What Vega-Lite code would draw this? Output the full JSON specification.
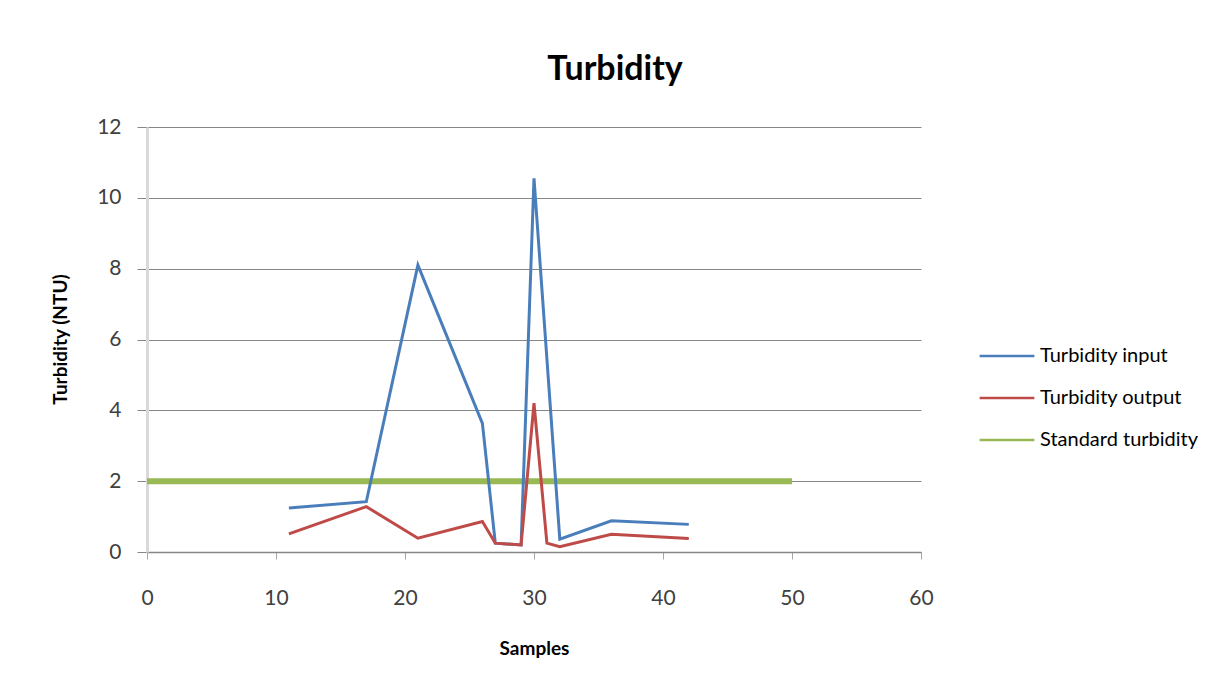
{
  "$schema": "https://vega.github.io/schema/vega-lite/v6.json",
  "width": 774,
  "height": 425,
  "autosize": {"type": "none"},
  "padding": {"left": 147, "top": 127, "right": 288, "bottom": 134},
  "background": "white",
  "title": {
    "text": "Turbidity",
    "font": "Lato",
    "fontSize": 34,
    "fontWeight": "bold",
    "color": "#000000",
    "anchor": "middle",
    "frame": "group",
    "dx": 81,
    "baseline": "alphabetic",
    "offset": 2
  },
  "config": {
    "view": {"stroke": null},
    "font": "Lato",
    "axis": {
      "labelFont": "Lato",
      "labelFontSize": 21,
      "labelColor": "#404040",
      "labelFlush": false,
      "titleFont": "Lato",
      "titleFontSize": 19,
      "titleFontWeight": "bold",
      "titleColor": "#000000"
    }
  },
  "datasets": {
    "measured": [
      {"sample": 11, "value": 1.24, "series": "Turbidity input"},
      {"sample": 17, "value": 1.42, "series": "Turbidity input"},
      {"sample": 21, "value": 8.1, "series": "Turbidity input"},
      {"sample": 26, "value": 3.63, "series": "Turbidity input"},
      {"sample": 27, "value": 0.25, "series": "Turbidity input"},
      {"sample": 29, "value": 0.2, "series": "Turbidity input"},
      {"sample": 30, "value": 10.55, "series": "Turbidity input"},
      {"sample": 32, "value": 0.36, "series": "Turbidity input"},
      {"sample": 36, "value": 0.88, "series": "Turbidity input"},
      {"sample": 42, "value": 0.78, "series": "Turbidity input"},
      {"sample": 11, "value": 0.51, "series": "Turbidity output"},
      {"sample": 17, "value": 1.28, "series": "Turbidity output"},
      {"sample": 21, "value": 0.39, "series": "Turbidity output"},
      {"sample": 26, "value": 0.86, "series": "Turbidity output"},
      {"sample": 27, "value": 0.25, "series": "Turbidity output"},
      {"sample": 29, "value": 0.2, "series": "Turbidity output"},
      {"sample": 30, "value": 4.2, "series": "Turbidity output"},
      {"sample": 31, "value": 0.25, "series": "Turbidity output"},
      {"sample": 32, "value": 0.15, "series": "Turbidity output"},
      {"sample": 36, "value": 0.5, "series": "Turbidity output"},
      {"sample": 42, "value": 0.38, "series": "Turbidity output"}
    ],
    "standard": [
      {"sample": 0, "value": 2, "series": "Standard turbidity"},
      {"sample": 50, "value": 2, "series": "Standard turbidity"}
    ]
  },
  "encoding": {
    "x": {
      "field": "sample",
      "type": "quantitative",
      "scale": {"domain": [0, 60], "nice": false},
      "axis": {
        "title": "Samples",
        "values": [0, 10, 20, 30, 40, 50, 60],
        "grid": false,
        "domainColor": "#868686",
        "domainWidth": 1.5,
        "tickColor": "#a6a6a6",
        "tickSize": 7,
        "labelPadding": 28,
        "titleY": 96,
        "titleBaseline": "middle"
      }
    },
    "y": {
      "field": "value",
      "type": "quantitative",
      "scale": {"domain": [0, 12], "nice": false},
      "axis": {
        "title": "Turbidity (NTU)",
        "values": [0, 2, 4, 6, 8, 10, 12],
        "grid": true,
        "gridColor": "#868686",
        "gridWidth": 1,
        "domainColor": "#d9d9d9",
        "domainWidth": 3,
        "tickColor": "#868686",
        "tickSize": 10,
        "labelPadding": 16,
        "titleX": -87,
        "titleY": 212,
        "titleAlign": "center",
        "titleBaseline": "middle"
      }
    },
    "color": {
      "field": "series",
      "type": "nominal",
      "scale": {
        "domain": ["Turbidity input", "Turbidity output", "Standard turbidity"],
        "range": ["#4a7ebb", "#be4b48", "#98b954"]
      },
      "legend": {
        "title": null,
        "orient": "none",
        "legendX": 831,
        "legendY": 200,
        "symbolType": "stroke",
        "symbolSize": 3000,
        "symbolStrokeWidth": 2.5,
        "labelFont": "Lato",
        "labelFontSize": 20,
        "labelColor": "#000000",
        "labelOffset": 4,
        "rowPadding": 3
      }
    }
  },
  "layer": [
    {
      "data": {"name": "standard"},
      "mark": {"type": "line", "strokeWidth": 6}
    },
    {
      "data": {"name": "measured"},
      "mark": {"type": "line", "strokeWidth": 3}
    }
  ]
}
